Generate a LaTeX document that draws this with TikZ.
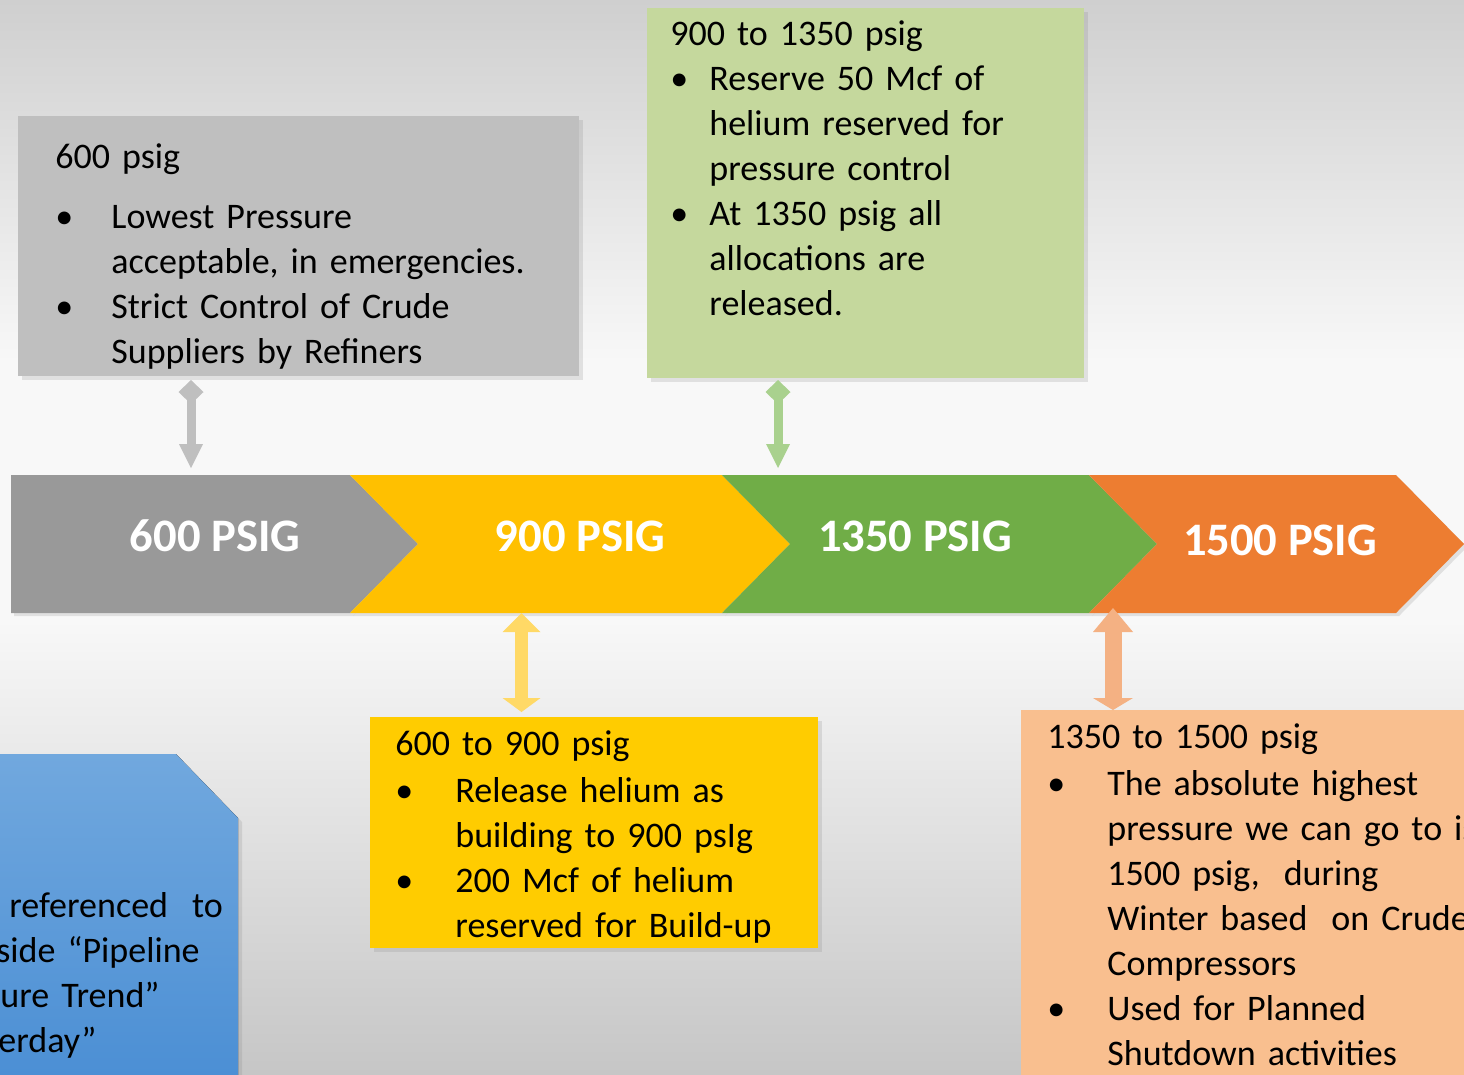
\documentclass[tikz,border=0pt]{standalone}
\usepackage{fontspec}
\setmainfont{Carlito}
\usepackage{tikz}
\usetikzlibrary{arrows.meta}
\usetikzlibrary{shadows}
\usetikzlibrary{positioning}

\definecolor{bgtop}{HTML}{CFCFCF}
\definecolor{bgmid}{HTML}{F8F8F8}
\definecolor{bgbot}{HTML}{C6C6C6}

\newcommand{\blt}[2]{\makebox[#1][l]{\textbullet}#2}
\newcommand{\ctd}[2]{\hspace*{#1}#2}
\newcommand{\boxfont}{\fontsize{18bp}{22.5bp}\selectfont\setlength{\spaceskip}{0.17em plus 0.05em}}

\begin{document}
\begin{tikzpicture}[x=0.5bp,y=-0.5bp,line join=bevel,
  box/.style={rectangle,inner sep=0pt,outer sep=0pt,
    drop shadow={shadow xshift=2bp,shadow yshift=-2bp,opacity=0.2}},
  boxtext/.style={anchor=base west,inner sep=0pt,text width=330bp,align=left,
    font=\boxfont},
  stage/.style={anchor=base,inner sep=0pt,text=white,
    font=\fontsize{23.3bp}{27bp}\selectfont\bfseries},
  chev/.style={drop shadow={shadow xshift=1.5bp,shadow yshift=-1.5bp,opacity=0.2}},
  dbl/.style={line cap=butt,line width=#1}]
\useasboundingbox (0,0) rectangle (1464,1074);
\clip (0,0) rectangle (1464,1074);
%%
\fill[top color=bgtop,bottom color=bgmid] (0,0) rectangle (1464,362);
\fill[bgmid] (0,360) rectangle (1464,622);
\fill[top color=bgmid,bottom color=bgbot] (0,620) rectangle (1464,1074);

% note box, bottom left
\definecolor{blueTop}{HTML}{71A8DE}
\definecolor{blueBot}{HTML}{4A8ED4}
\fill[top color=blueTop,bottom color=blueBot,drop shadow={shadow xshift=2bp,shadow yshift=-2bp,opacity=0.2}]
  (-10,754) -- (176,754) -- (238,818) -- (238,1090) -- (-10,1090) -- cycle;
\node (blueTxt) at (9,917) [boxtext] {referenced \ to\\
  \ctd{-6.5bp}{side “Pipeline}\\
  \ctd{-4.5bp}{ure Trend”}\\
  \ctd{-5.5bp}{erday”}};

% callout boxes
\definecolor{grayFill}{HTML}{BFBFBF}
\definecolor{greenFill}{HTML}{C5D89D}
\definecolor{yellowFill}{HTML}{FFCC00}
\definecolor{orangeFill}{HTML}{F9BF8F}
\node (grayBox) at (298.5,246) [box,fill=grayFill,minimum width=280.5bp,minimum height=130bp] {};
\node (greenBox) at (865.5,193) [box,fill=greenFill,minimum width=218.5bp,minimum height=185bp] {};
\node (yellowBox) at (594,832.5) [box,fill=yellowFill,minimum width=224bp,minimum height=115.5bp] {};
\node (orangeBox) at (1247.5,900) [box,fill=orangeFill,minimum width=226.5bp,minimum height=190bp] {};

\node (grayTxt) at (55,168) [boxtext] {600 psig\\[7.5bp]
  \blt{28bp}{Lowest Pressure}\\
  \ctd{28bp}{acceptable, in emergencies.}\\
  \blt{28bp}{Strict Control of Crude}\\
  \ctd{28bp}{Suppliers by Refiners}};
\node (greenTxt) at (670,45) [boxtext] {900 to 1350 psig\\
  \blt{19.5bp}{Reserve 50 Mcf of}\\
  \ctd{19.5bp}{helium reserved for}\\
  \ctd{19.5bp}{pressure control}\\
  \blt{19.5bp}{At 1350 psig all}\\
  \ctd{19.5bp}{allocations are}\\
  \ctd{19.5bp}{released.}};
\node (yellowTxt) at (395,755) [boxtext] {600 to 900 psig\\[1bp]
  \blt{30bp}{Release helium as}\\
  \ctd{30bp}{building to 900 psIg}\\
  \blt{30bp}{200 Mcf of helium}\\
  \ctd{30bp}{reserved for Build-up}};
\node (orangeTxt) at (1047,748) [boxtext] {1350 to 1500 psig\\[1bp]
  \blt{30bp}{The absolute highest}\\
  \ctd{30bp}{pressure we can go to is}\\
  \ctd{30bp}{1500 psig, \ during}\\
  \ctd{30bp}{Winter based \ on Crude}\\
  \ctd{30bp}{Compressors}\\
  \blt{30bp}{Used for Planned}\\
  \ctd{30bp}{Shutdown activities}};

% pressure stages
\definecolor{stGray}{HTML}{999999}
\definecolor{stYellow}{HTML}{FFC000}
\definecolor{stGreen}{HTML}{70AD47}
\definecolor{stOrange}{HTML}{ED7D31}
\fill[stGray,chev] (11,475) -- (350,475) -- (418,544) -- (350,613) -- (11,613) -- cycle;
\fill[stYellow,chev] (350,475) -- (722,475) -- (790,544) -- (722,613) -- (350,613) -- (418,544) -- cycle;
\fill[stGreen,chev] (722,475) -- (1089,475) -- (1157,544) -- (1089,613) -- (722,613) -- (790,544) -- cycle;
\fill[stOrange,chev] (1089,475) -- (1396,475) -- (1464,544) -- (1396,613) -- (1089,613) -- (1157,544) -- cycle;
\node (s600) at (215,551) [stage] {600 PSIG};
\node (s900) at (580,551) [stage] {900 PSIG};
\node (s1350) at (915,551) [stage] {1350 PSIG};
\node (s1500) at (1280,555) [stage] {1500 PSIG};

\coordinate (c600) at (191,475);
\coordinate (c1350) at (778,475);
\coordinate (c900) at (521.5,613);
\coordinate (c1500) at (1113,608);

% double arrows
\definecolor{arGray}{HTML}{BFBFBF}
\definecolor{arGreen}{HTML}{A9D18E}
\definecolor{arYellow}{HTML}{FFD966}
\definecolor{arOrange}{HTML}{F4B183}
\draw [arGray,dbl=4.5bp,{Diamond[width=12.5bp,length=12bp,line width=0pt]}-{Triangle[width=12bp,length=12bp,line width=0pt]},shorten <=2bp,shorten >=3.5bp] (grayBox.south -| c600) -- (c600);
\draw [arGreen,dbl=4.5bp,{Diamond[width=12.5bp,length=12bp,line width=0pt]}-{Triangle[width=12bp,length=12bp,line width=0pt]},shorten <=1bp,shorten >=3.5bp] (greenBox.south -| c1350) -- (c1350);
\draw [arYellow,dbl=6.5bp,{Triangle[width=19bp,length=9.5bp,line width=0pt]}-{Triangle[width=19bp,length=7bp,line width=0pt]},shorten >=2.5bp] (c900) -- (yellowBox.north -| c900);
\draw [arOrange,dbl=8.5bp,{Triangle[width=20bp,length=12bp,line width=0pt]}-{Triangle[width=20bp,length=6bp,line width=0pt]}] (c1500) -- (orangeBox.north -| c1500);

%
\end{tikzpicture}
\end{document}
